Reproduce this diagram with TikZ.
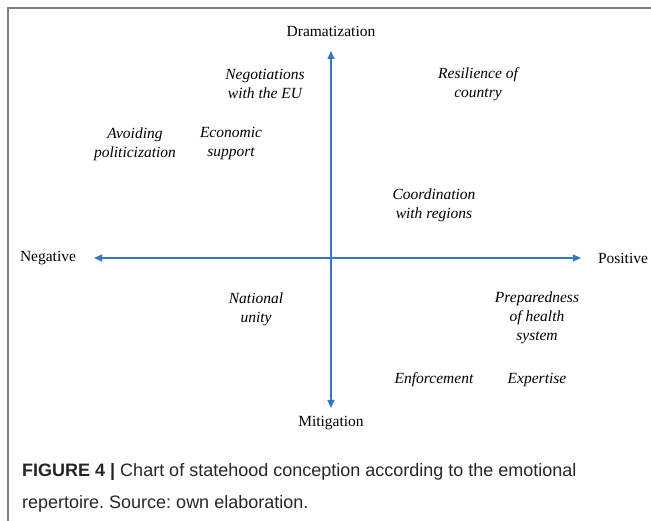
\documentclass[tikz,border=0pt]{standalone}
\usepackage{fontspec}
\setmainfont{Liberation Serif}
\newfontfamily\capfont{Liberation Sans}
\usepackage{xcolor}
\usetikzlibrary{arrows.meta}

\definecolor{axisblue}{RGB}{52,118,200}
\definecolor{framegray}{RGB}{125,125,125}

\begin{document}
\frenchspacing
\begin{tikzpicture}[x=1pt,y=-1pt]
\tikzset{
  axis/.style={
    axisblue,
    line width=1.2pt,
    {Triangle[length=8pt,width=7pt]}-{Triangle[length=8pt,width=7pt]},
  },
  pole/.style={
    font=\fontsize{15.5}{19}\selectfont,
  },
  item/.style={
    align=center,
    font=\fontsize{15.5}{19}\selectfont\itshape,
    inner sep=0pt,
  },
}
\useasboundingbox (0,0) rectangle (651,521);
\draw[framegray, line width=1.2pt] (8,521) -- (8,8) -- (651,8);

% axes
\coordinate (up) at (331,51);
\coordinate (down) at (331,408);
\coordinate (left) at (94,258);
\coordinate (right) at (581,258);
\draw[axis] (down) -- (up);
\draw[axis] (left) -- (right);

\node[pole] (dram) at (331,31) {Dramatization};
\node[pole] (miti) at (331,423) {Mitigation};
\node[pole] (nega) at (48,258) {Negative};
\node[pole] (posi) at (623,258) {Positive};

% quadrant labels
\foreach[count=\k] \pos/\txt in {
  {(265,84)}/{Negotiations\\with the EU},
  {(478,84)}/{Resilience of\\country},
  {(135,144)}/{Avoiding\\politicization},
  {(231,144)}/{Economic\\support},
  {(434,205)}/{Coordination\\with regions},
  {(256,309)}/{National\\unity},
  {(537,318)}/{Preparedness\\of health\\system},
  {(434,380)}/{Enforcement},
  {(537,380)}/{Expertise}} {
  \node[item] (lbl\k) at \pos {\txt};
}

\node[anchor=base west, align=left, inner sep=0pt, text=black!85,
  font=\capfont\fontsize{18}{32}\selectfont] (caption) at (22,508)
  {\textbf{FIGURE 4 |} Chart of statehood conception according to the emotional\\
   repertoire. Source: own elaboration.};
\end{tikzpicture}
\end{document}
